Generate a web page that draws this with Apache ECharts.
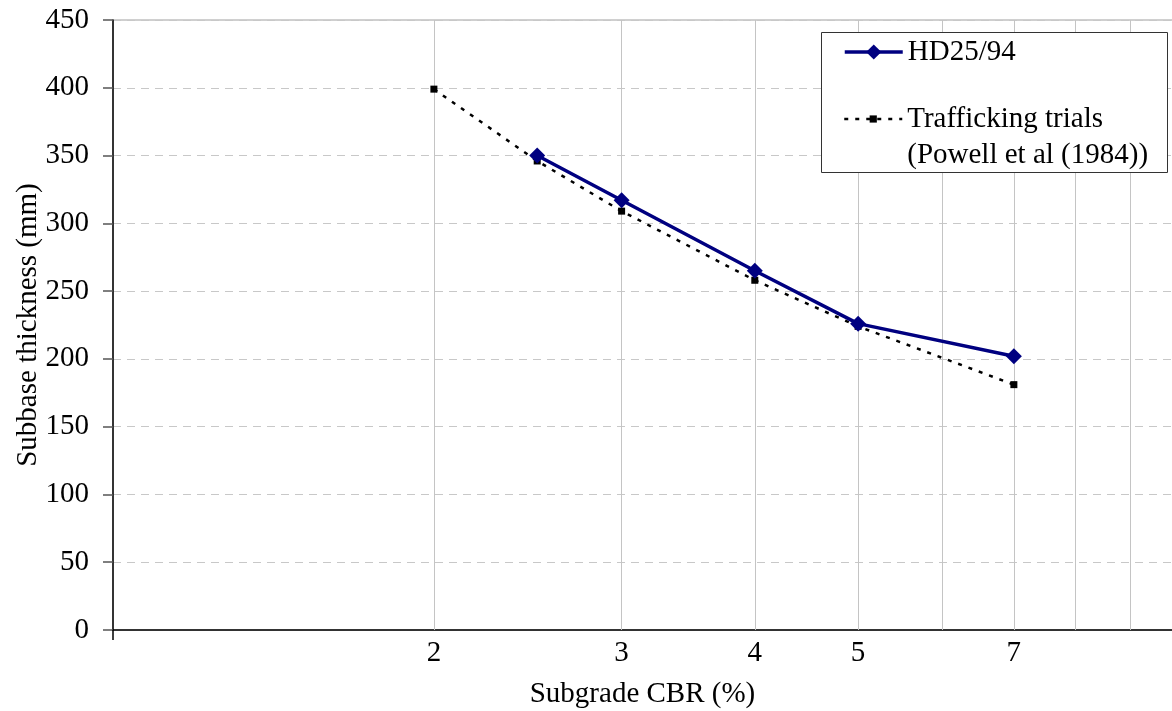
<!DOCTYPE html>
<html>
<head>
<meta charset="utf-8">
<script src="https://cdn.jsdelivr.net/npm/echarts@6/dist/echarts.min.js"></script>
<style>
  html, body { margin: 0; padding: 0; background: #fff; }
  #chart { width: 1172px; height: 711px; }
</style>
</head>
<body>
<div id="chart"></div>
<script>
// Subgrade CBR (%) vs required subbase thickness (mm)
const hdCbr = [2.5, 3, 4, 5, 7];
const hdThickness = [350, 317, 265, 226, 202];

const trialCbr = [2, 2.5, 3, 4, 5, 7];
const trialThickness = [399, 346, 309, 258, 224, 181];

const cbrLabels = [2, 3, 4, 5, 7];
const cbrGridLines = [2, 3, 4, 5, 6, 7, 8, 9];

const hdName = 'HD25/94';
const trialName = 'Trafficking trials (Powell et al (1984))';

const FONT = 'Liberation Serif, Times New Roman, serif';

const chart = echarts.init(document.getElementById('chart'), null, { renderer: 'canvas' });

const pairs = (xs, ys) => xs.map((x, i) => [x, ys[i]]);

chart.setOption({
  animation: false,
  backgroundColor: '#fff',
  textStyle: { fontFamily: FONT, color: '#000' },
  grid: {
    left: 113, top: 20, width: 1066, height: 610,
    outerBoundsMode: 'none', containLabel: false,
    show: true, borderColor: '#a0a0a0', borderWidth: 1, backgroundColor: '#fff'
  },
  xAxis: {
    type: 'log', logBase: 10, min: 1, max: 10,
    name: 'Subgrade CBR (%)', nameLocation: 'middle', nameGap: 50, nameMoveOverlap: false,
    nameTextStyle: { fontFamily: FONT, fontSize: 29, color: '#000', padding: [0, 7, 0, 0] },
    axisLine: { lineStyle: { color: '#000', width: 1.5 } },
    axisTick: { show: true, inside: false, length: 10, lineStyle: { color: '#000', width: 1.5 } },
    axisLabel: { customValues: cbrLabels, fontFamily: FONT, fontSize: 29, color: '#000', margin: 9 },
    splitLine: { show: false },
    minorTick: { show: false }, minorSplitLine: { show: false }
  },
  yAxis: {
    type: 'value', min: 0, max: 450, interval: 50,
    name: 'Subbase thickness (mm)', nameLocation: 'middle', nameGap: 70, nameMoveOverlap: false,
    nameTextStyle: { fontFamily: FONT, fontSize: 29, color: '#000' },
    axisLine: { show: true, lineStyle: { color: '#000', width: 1.5 } },
    axisTick: { show: true, length: 10, lineStyle: { color: '#555', width: 1.5 } },
    axisLabel: { fontFamily: FONT, fontSize: 29, color: '#000', margin: 24 },
    splitLine: { show: true, lineStyle: { color: '#c8c8c8', width: 1, type: [8, 6] } }
  },
  legend: [
    {
      data: [hdName],
      left: 843, top: 34, padding: 0,
      itemWidth: 58, itemHeight: 19,
      lineStyle: { width: 3.5 },
      textStyle: { fontFamily: FONT, fontSize: 29, color: '#000', lineHeight: 36 },
      z: 20
    },
    {
      data: [trialName],
      left: 843, top: 65, padding: 0,
      itemWidth: 58, itemHeight: 9,
      lineStyle: { width: 2.5 },
      formatter: () => '\nTrafficking trials\n(Powell et al (1984))',
      textStyle: { fontFamily: FONT, fontSize: 29, color: '#000', lineHeight: 36 },
      z: 20
    }
  ],
  graphic: [{
    type: 'rect', z: 10,
    shape: { x: 821.5, y: 32.5, width: 346, height: 140 },
    style: { fill: '#fff', stroke: '#333', lineWidth: 1 }
  }],
  series: [
    {
      name: trialName,
      type: 'line',
      data: pairs(trialCbr, trialThickness),
      symbol: 'rect', symbolSize: 7,
      itemStyle: { color: '#000' },
      lineStyle: { color: '#000', width: 2.5, type: [4, 7] },
      z: 3,
      markLine: {
        silent: true, symbol: ['none', 'none'], z: 1,
        label: { show: false },
        lineStyle: { color: '#c4c4c4', width: 1, type: 'solid' },
        emphasis: { disabled: true },
        data: cbrGridLines.map(v => ({ xAxis: v }))
      }
    },
    {
      name: hdName,
      type: 'line',
      data: pairs(hdCbr, hdThickness),
      symbol: 'diamond', symbolSize: 16,
      itemStyle: { color: '#000080' },
      lineStyle: { color: '#000080', width: 3.5 },
      z: 4
    }
  ]
});
</script>
</body>
</html>
